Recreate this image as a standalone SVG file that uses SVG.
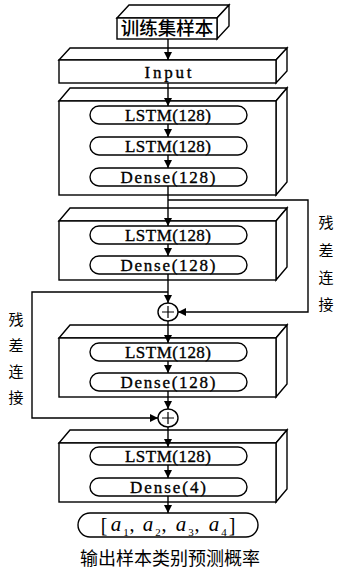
<svg xmlns="http://www.w3.org/2000/svg" width="339" height="570" viewBox="0 0 339 570">
<defs>
<marker id="ah" markerUnits="userSpaceOnUse" markerWidth="9" markerHeight="8" refX="8" refY="4" orient="auto">
<path d="M0,0 L8,4 L0,8 z" fill="#000"/>
</marker>
<style>
.box{fill:#fff;stroke:#000;stroke-width:1.4;stroke-linejoin:miter}
.pill{fill:#fff;stroke:#000;stroke-width:1.4}
.lbl{font-family:"Liberation Serif",serif;font-size:17px;fill:#000;stroke:#000;stroke-width:0.35;text-anchor:middle}
.cjk{font-family:"Noto Sans CJK SC",sans-serif;fill:#000;text-anchor:middle}
.con{fill:none;stroke:#000;stroke-width:1.4}
.ar{marker-end:url(#ah)}
.it{font-family:"Liberation Serif",serif;font-style:italic;font-size:21px;text-anchor:middle}
.sub{font-family:"Liberation Serif",serif;font-size:11px;text-anchor:middle}
.pn{font-family:"Liberation Serif",serif;font-size:20px;text-anchor:middle}
</style>
</defs>
<rect width="339" height="570" fill="#fff"/>

<g id="samples">
<polygon class="box" points="117,18 129,5 229,5 217,18"/>
<polygon class="box" points="217,18 229,5 229,26 217,39"/>
<rect class="box" x="117" y="18" width="100" height="21"/>
<text class="cjk" x="167" y="35" font-size="18.5" font-weight="500">训练集样本</text>
</g>

<g id="input">
<polygon class="box" points="59,60 70,48 287,48 276,60"/>
<polygon class="box" points="276,60 287,48 287,71 276,83"/>
<rect class="box" x="59" y="60" width="217" height="23"/>
<text class="lbl" x="168" y="77.5" textLength="47" lengthAdjust="spacing">Input</text>
</g>

<g id="block1">
<polygon class="box" points="59,101 70,88 287,88 276,101"/>
<polygon class="box" points="276,101 287,88 287,182 276,195"/>
<rect class="box" x="59" y="101" width="217" height="94"/>
<rect class="pill" x="90" y="106" width="157" height="18" rx="9"/>
<text class="lbl" x="168" y="121" textLength="86" lengthAdjust="spacing">LSTM(128)</text>
<rect class="pill" x="90" y="137" width="157" height="18" rx="9"/>
<text class="lbl" x="168" y="152" textLength="86" lengthAdjust="spacing">LSTM(128)</text>
<rect class="pill" x="90" y="168" width="157" height="18" rx="9"/>
<text class="lbl" x="168" y="183" textLength="95" lengthAdjust="spacing">Dense(128)</text>
</g>

<g id="block2">
<polygon class="box" points="59,221 70,208 287,208 276,221"/>
<polygon class="box" points="276,221 287,208 287,267 276,280"/>
<rect class="box" x="59" y="221" width="217" height="59"/>
<rect class="pill" x="90" y="226" width="157" height="18" rx="9"/>
<text class="lbl" x="168" y="241" textLength="86" lengthAdjust="spacing">LSTM(128)</text>
<rect class="pill" x="90" y="256" width="157" height="18" rx="9"/>
<text class="lbl" x="168" y="271" textLength="95" lengthAdjust="spacing">Dense(128)</text>
</g>

<g id="add1">
<ellipse class="box" cx="168" cy="312" rx="10" ry="9"/>
<path d="M162,312 H174 M168,306 V318" stroke="#000" stroke-width="1.2"/>
</g>

<g id="block3">
<polygon class="box" points="59,338 70,325 287,325 276,338"/>
<polygon class="box" points="276,338 287,325 287,384 276,397"/>
<rect class="box" x="59" y="338" width="217" height="59"/>
<rect class="pill" x="90" y="343" width="157" height="18" rx="9"/>
<text class="lbl" x="168" y="358" textLength="86" lengthAdjust="spacing">LSTM(128)</text>
<rect class="pill" x="90" y="373" width="157" height="18" rx="9"/>
<text class="lbl" x="168" y="388" textLength="95" lengthAdjust="spacing">Dense(128)</text>
</g>

<g id="add2">
<ellipse class="box" cx="168" cy="418" rx="10" ry="9"/>
<path d="M162,418 H174 M168,412 V424" stroke="#000" stroke-width="1.2"/>
</g>

<g id="block4">
<polygon class="box" points="59,443 70,430 287,430 276,443"/>
<polygon class="box" points="276,443 287,430 287,489 276,502"/>
<rect class="box" x="59" y="443" width="217" height="59"/>
<rect class="pill" x="90" y="447" width="157" height="18" rx="9"/>
<text class="lbl" x="168" y="462" textLength="86" lengthAdjust="spacing">LSTM(128)</text>
<rect class="pill" x="90" y="478" width="157" height="18" rx="9"/>
<text class="lbl" x="168" y="493" textLength="76" lengthAdjust="spacing">Dense(4)</text>
</g>

<g id="output">
<rect class="pill" x="78" y="513" width="180" height="24" rx="12"/>
<text class="pn" x="104" y="532">[</text>
<text class="it" x="116" y="531">a</text><text class="sub" x="126" y="536">1</text><text class="pn" x="132" y="531">,</text>
<text class="it" x="148" y="531">a</text><text class="sub" x="158" y="536">2</text><text class="pn" x="164" y="531">,</text>
<text class="it" x="181" y="531">a</text><text class="sub" x="191" y="536">3</text><text class="pn" x="197" y="531">,</text>
<text class="it" x="214" y="531">a</text><text class="sub" x="224" y="536">4</text>
<text class="pn" x="232" y="532">]</text>
<text class="cjk" x="170" y="565" font-size="18">输出样本类别预测概率</text>
</g>

<g id="labels">
<text class="cjk" font-size="15" x="326" y="228">残</text>
<text class="cjk" font-size="15" x="326" y="256">差</text>
<text class="cjk" font-size="15" x="326" y="283">连</text>
<text class="cjk" font-size="15" x="326" y="310">接</text>
<text class="cjk" font-size="15" x="16" y="325">残</text>
<text class="cjk" font-size="15" x="16" y="351">差</text>
<text class="cjk" font-size="15" x="16" y="377">连</text>
<text class="cjk" font-size="15" x="16" y="403">接</text>
</g>

<g id="connectors">
<path class="con ar" d="M168,39 V60"/>
<path class="con ar" d="M168,83 V106"/>
<path class="con ar" d="M168,124 V137"/>
<path class="con ar" d="M168,155 V168"/>
<path class="con ar" d="M168,186 V226"/>
<path class="con ar" d="M168,244 V256"/>
<path class="con ar" d="M168,274 V303"/>
<path class="con ar" d="M168,321 V343"/>
<path class="con ar" d="M168,361 V373"/>
<path class="con ar" d="M168,391 V409"/>
<path class="con ar" d="M168,427 V447"/>
<path class="con ar" d="M168,465 V478"/>
<path class="con ar" d="M168,496 V513"/>
<path class="con ar" d="M168,200 H308 V312 H178"/>
<path class="con ar" d="M168,292 H32 V418 H158"/>
</g>
</svg>
